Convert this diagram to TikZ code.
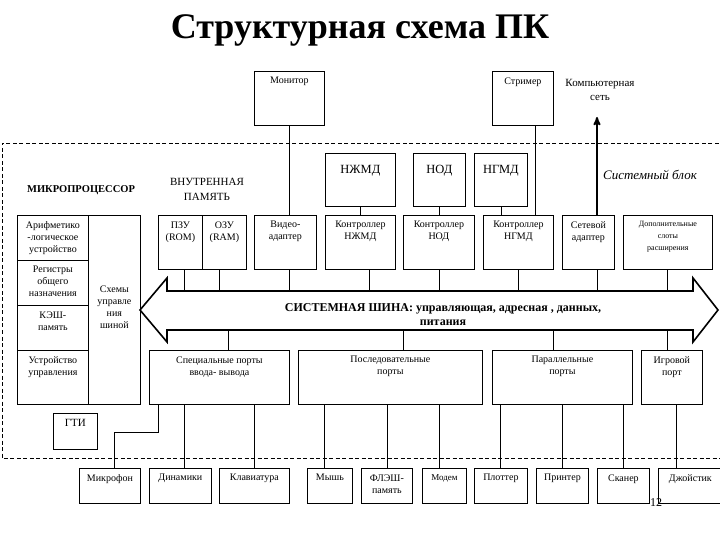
\documentclass[tikz,border=0pt]{standalone}
\usepackage{fontspec}
\setmainfont{Liberation Serif}
\usetikzlibrary{arrows}

\begin{document}
\begin{tikzpicture}[x=1pt,y=-1pt,line width=0.8pt,>=stealth',
    pcbox/.style 2 args={draw,anchor=north west,minimum width=#1pt,minimum height=#2pt,
                         inner sep=0pt,font=\fontsize{10}{12}\selectfont,align=center},
    lbl/.style={anchor=north,yshift=-6pt,inner sep=0pt,align=center,font=\fontsize{10}{12}\selectfont},
    lblbig/.style={lbl,yshift=-6pt,font=\fontsize{12.5}{14}\selectfont},
    lblsmall/.style={lbl,font=\fontsize{8}{12}\selectfont}]

  \useasboundingbox (0,0) rectangle (720,540);

  \node[font=\bfseries\fontsize{36}{40}\selectfont] (title) at (360,30) {Структурная схема ПК};

  % system unit
  \draw[dash pattern=on 4pt off 2.5pt] (725,143) -| (2,458) -- (725,458);
  \node[font=\itshape\fontsize{13}{15}\selectfont] (sysunit) at (650,175) {Системный блок};

  % outside devices
  \node[pcbox={70}{54},label={[lbl]north:Монитор}] (mon) at (254,71) {};
  \node[pcbox={61}{54},label={[lbl]north:Стример}] (str) at (492,71) {};
  \node[align=center,font=\fontsize{11}{14}\selectfont] (lan) at (600,90) {Компьютерная\\сеть};

  % drives
  \node[pcbox={70}{53},label={[lblbig]north:НЖМД}] (hdd) at (325,153) {};
  \node[pcbox={52}{53},label={[lblbig]north:НОД}] (cd) at (413,153) {};
  \node[pcbox={53}{53},label={[lblbig]north:НГМД}] (fdd) at (474,153) {};

  \node[font=\bfseries\fontsize{10.5}{12}\selectfont] (mptxt) at (81,190) {МИКРОПРОЦЕССОР};
  \node[align=center,font=\fontsize{11}{15}\selectfont] (memtxt) at (207,189) {ВНУТРЕННАЯ\\ПАМЯТЬ};

  % microprocessor
  \node[pcbox={71}{45},label={[lbl]north:{Арифметико\\-логическое\\устройство}}] (alu) at (17,215) {};
  \node[pcbox={71}{45},label={[lbl]north:{Регистры\\общего\\назначения}}] (reg) at (17,260) {};
  \node[pcbox={71}{45},label={[lbl]north:{КЭШ-\\память}}] (cache) at (17,305) {};
  \node[pcbox={71}{54},label={[lbl]north:{Устройство\\управления}}] (cu) at (17,350) {};
  \node[pcbox={52}{189},label={[lbl,yshift=-64pt]north:{Схемы\\управле\\ния\\шиной}}] (busctl) at (88,215) {};

  % memory and controllers
  \node[pcbox={44}{54},label={[lbl]north:{ПЗУ\\(ROM)}}] (rom) at (158,215) {};
  \node[pcbox={44}{54},label={[lbl]north:{ОЗУ\\(RAM)}}] (ram) at (202,215) {};
  \node[pcbox={62}{54},label={[lbl]north:{Видео-\\адаптер}}] (vid) at (254,215) {};
  \node[pcbox={70}{54},label={[lbl]north:{Контроллер\\НЖМД}}] (hddc) at (325,215) {};
  \node[pcbox={71}{54},label={[lbl]north:{Контроллер\\НОД}}] (cdc) at (403,215) {};
  \node[pcbox={70}{54},label={[lbl]north:{Контроллер\\НГМД}}] (fddc) at (483,215) {};
  \node[pcbox={52}{54},label={[lbl]north:{Сетевой\\адаптер}}] (netad) at (562,215) {};
  \node[pcbox={89}{54},label={[lblsmall]north:{Дополнительные\\слоты\\расширения}}] (slots) at (623,215) {};

  % system bus
  \coordinate (busN) at (0,291);
  \coordinate (busS) at (0,330);
  \draw[line width=1.6pt] (140,310) -- (167,278) -- (167,291) -- (693,291) -- (693,278)
    -- (718,310) -- (693,342) -- (693,330) -- (167,330) -- (167,342) -- cycle;
  \node[align=center,font=\bfseries\fontsize{12}{14}\selectfont] (bustxt) at (443,315)
    {СИСТЕМНАЯ ШИНА: управляющая, адресная , данных,\\питания};

  % ports
  \node[pcbox={140}{54},label={[lbl]north:{Специальные порты\\ввода- вывода}}] (spec) at (149,350) {};
  \node[pcbox={184}{54},label={[lbl]north:{Последовательные\\порты}}] (ser) at (298,350) {};
  \node[pcbox={140}{54},label={[lbl]north:{Параллельные\\порты}}] (par) at (492,350) {};
  \node[pcbox={61}{54},label={[lbl]north:{Игровой\\порт}}] (game) at (641,350) {};
  \node[pcbox={44}{36},label={[lbl,font=\fontsize{11}{12}\selectfont]north:ГТИ}] (gti) at (53,413) {};

  % peripherals
  \node[pcbox={61}{35},label={[lbl]north:Микрофон}] (mic) at (79,468) {};
  \node[pcbox={62}{35},label={[lbl]north:Динамики}] (dyn) at (149,468) {};
  \node[pcbox={70}{35},label={[lbl]north:Клавиатура}] (kbd) at (219,468) {};
  \node[pcbox={45}{35},label={[lbl]north:Мышь}] (mouse) at (307,468) {};
  \node[pcbox={51}{35},label={[lbl]north:{ФЛЭШ-\\память}}] (flash) at (361,468) {};
  \node[pcbox={44}{35},label={[lbl,font=\fontsize{9}{12}\selectfont]north:Модем}] (modem) at (422,468) {};
  \node[pcbox={53}{35},label={[lbl]north:Плоттер}] (plot) at (474,468) {};
  \node[pcbox={52}{35},label={[lbl]north:Принтер}] (prn) at (536,468) {};
  \node[pcbox={52}{35},label={[lbl]north:Сканер}] (scan) at (597,468) {};
  \node[pcbox={64}{35},label={[lbl]north:Джойстик}] (joy) at (658,468) {};
  \node[font=\fontsize{12}{14}\selectfont] (pgnum) at (656,503) {12};

  % links
  \coordinate (strx) at (535,0);
  \coordinate (lanx) at (597,117);
  \draw (mon.south) -- (mon.south |- vid.north);
  \draw (strx |- str.south) -- (strx |- fddc.north);
  \draw[->,line width=1.8pt] (netad.north -| lanx) -- (lanx);
  \foreach \a/\b in {hdd/hddc, cd/cdc, fdd/fddc}
    \draw (\a.south) -- (\a.south |- \b.north);
  \foreach \b/\x in {rom/184, ram/219, vid/289, hddc/369, cdc/439, fddc/518, netad/597, slots/667}
    \draw (\b.south -| \x,0) -- (busN -| \x,0);
  \foreach \b/\x in {spec/228, ser/403, par/553, game/667}
    \draw (busS -| \x,0) -- (\b.north -| \x,0);
  \foreach \p/\d/\x in {spec/dyn/184, spec/kbd/254, ser/mouse/324, ser/flash/387, ser/modem/439,
                        par/plot/500, par/prn/562, par/scan/623, game/joy/676}
    \draw (\p.south -| \x,0) -- (\d.north -| \x,0);
  \draw (spec.south -| 158,0) -- ++(0,28) -| (mic.north -| 114,0);
\end{tikzpicture}
\end{document}
